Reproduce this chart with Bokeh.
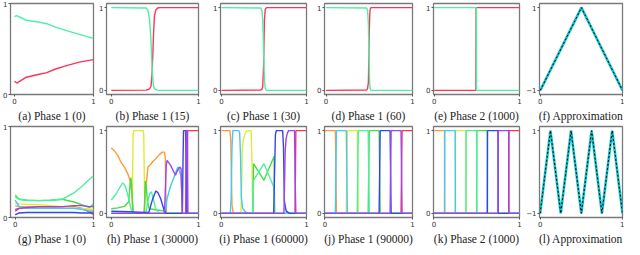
from bokeh.plotting import figure
from bokeh.layouts import gridplot
from bokeh.models import FixedTicker, Range1d, Title
from bokeh.embed import file_html
from bokeh.resources import INLINE

# ---------------- colours ----------------
TOP_GREEN = "#4cf0a2"
TOP_RED = "#ff3358"
CLS = {"red": "#ff3358", "orange": "#ff9a38", "yellow": "#dcec35", "green": "#45dc45",
       "spring": "#48f0a0", "cyan": "#45c8f5", "blue": "#3346ee", "purple": "#9b45ee"}
ORDER = ["red", "orange", "yellow", "green", "spring", "cyan", "blue", "purple"]
APPROX_C = "#14c4cc"

# ---------------- captions ----------------
captions_top = ["(a) Phase 1 (0)", "(b) Phase 1 (15)", "(c) Phase 1 (30)",
                "(d) Phase 1 (60)", "(e) Phase 2 (1000)", "(f) Approximation"]
captions_bottom = ["(g) Phase 1 (0)", "(h) Phase 1 (30000)", "(i) Phase 1 (60000)",
                   "(j) Phase 1 (90000)", "(k) Phase 2 (1000)", "(l) Approximation"]

# ---------------- top row data (2 classes) ----------------
xa = [0, 0.03, 0.15, 0.30, 0.41, 0.52, 0.67, 0.82, 1.0]
ga = [0.855, 0.866, 0.816, 0.797, 0.778, 0.74, 0.70, 0.66, 0.617]
ra = [0.146, 0.126, 0.19, 0.22, 0.24, 0.28, 0.32, 0.356, 0.383]

xb = [0, 0.40, 0.42, 0.44, 0.455, 0.465, 0.475, 0.485, 0.495, 0.51, 0.53, 0.56, 1]
gb = [1, 0.995, 0.97, 0.85, 0.6, 0.35, 0.15, 0.05, 0.02, 0.01, 0.003, 0, 0]
rb = [0, 0.003, 0.01, 0.02, 0.05, 0.15, 0.4, 0.7, 0.9, 0.97, 0.995, 1, 1]

xc = [0, 0.46, 0.475, 0.485, 0.495, 0.50, 0.505, 0.515, 0.53, 1]
gc = [1, 0.995, 0.97, 0.85, 0.5, 0.3, 0.12, 0.02, 0, 0]
rc = [0, 0.005, 0.01, 0.04, 0.3, 0.6, 0.85, 0.98, 1, 1]

xd = [0, 0.47, 0.48, 0.49, 0.495, 0.50, 0.505, 0.51, 0.52, 1]
gd = [1, 0.995, 0.97, 0.8, 0.5, 0.25, 0.08, 0.02, 0, 0]
rd = [0, 0.005, 0.02, 0.1, 0.4, 0.7, 0.9, 0.98, 1, 1]

xe = [0, 0.489, 0.491, 0.494, 0.496, 1]
ge = [1, 1, 1, 1, 0, 0]
re_ = [0, 0, 1, 1, 1, 1]

xf = [0, 0.5, 1]
yf = [-1, 1, -1]

xl = [0, 0.125, 0.25, 0.375, 0.5, 0.625, 0.75, 0.875, 1]
yl = [-1, 1, -1, 1, -1, 1, -1, 1, -1]

# ---------------- (g) Phase 1 (0), 8 classes ----------------
xg = [0, 0.05, 0.15, 0.30, 0.45, 0.60, 0.75, 0.85, 0.95, 1.0]
g_red = [0.07, 0.10, 0.11, 0.115, 0.115, 0.12, 0.12, 0.10, 0.06, 0.03]
g_orange = [0.13, 0.12, 0.12, 0.115, 0.11, 0.105, 0.10, 0.095, 0.085, 0.08]
g_yellow = [0.16, 0.15, 0.145, 0.14, 0.13, 0.12, 0.11, 0.10, 0.09, 0.09]
g_green = [0.23, 0.20, 0.19, 0.185, 0.19, 0.20, 0.17, 0.14, 0.11, 0.15]
g_spring = [0.25, 0.20, 0.19, 0.185, 0.19, 0.20, 0.27, 0.34, 0.42, 0.46]
g_cyan = [0.19, 0.12, 0.10, 0.10, 0.10, 0.10, 0.10, 0.09, 0.07, 0.06]
g_blue = [0.03, 0.05, 0.055, 0.055, 0.055, 0.055, 0.055, 0.05, 0.05, 0.05]
g_purple = [0.09, 0.10, 0.11, 0.12, 0.12, 0.12, 0.13, 0.13, 0.12, 0.12]

# ---------------- (h) Phase 1 (30000) ----------------
h_orange_x = [0, 0.04, 0.075, 0.11, 0.15, 0.17, 0.20, 0.22, 0.235, 0.25, 0.26, 0.377, 0.39,
              0.41, 0.42, 0.45, 0.48, 0.51, 0.55, 0.585, 0.61, 0.62, 0.625, 0.634, 1]
h_orange_y = [0.79, 0.75, 0.70, 0.62, 0.56, 0.52, 0.45, 0.37, 0.24, 0.03, 0, 0, 0.24,
              0.45, 0.56, 0.59, 0.63, 0.66, 0.71, 0.74, 0.74, 0.66, 0.24, 0, 0]
h_yellow_x = [0, 0.24, 0.245, 0.25, 0.258, 0.365, 0.372, 0.378, 0.385, 1]
h_yellow_y = [0, 0, 0.5, 0.95, 1, 1, 0.95, 0.5, 0, 0]
h_green_x = [0, 0.075, 0.15, 0.20, 0.22, 0.226, 0.238, 0.25, 0.377, 0.39, 0.40, 0.415,
             0.434, 0.53, 0.60, 0.61, 1]
h_green_y = [0.055, 0.067, 0.084, 0.14, 0.41, 0.43, 0.24, 0, 0, 0.39, 0.33, 0.14,
             0.055, 0.04, 0.03, 0, 0]
h_spring_x = [0, 0.057, 0.13, 0.16, 0.19, 0.22, 0.24, 0.396, 0.415, 0.44, 0.46, 0.48,
              0.51, 0.55, 1]
h_spring_y = [0.16, 0.24, 0.37, 0.33, 0.22, 0.08, 0, 0, 0.12, 0.24, 0.26, 0.18,
              0.055, 0, 0]
h_cyan_x = [0, 0.62, 0.64, 0.68, 0.717, 0.755, 0.766, 0.785, 0.80, 0.815, 1]
h_cyan_y = [0, 0, 0.18, 0.33, 0.43, 0.54, 0.56, 0.50, 0.45, 0, 0]
h_blue_x = [0, 0.20, 0.377, 0.43, 0.47, 0.51, 0.535, 0.566, 0.60, 0.626, 0.815, 0.822,
            0.828, 0.852, 0.858, 0.864, 1]
h_blue_y = [0.025, 0.02, 0.01, 0.01, 0.16, 0.27, 0.25, 0.18, 0.055, 0, 0, 0.6,
            1, 1, 0.6, 0, 0]
h_purple_x = [0, 0.61, 0.63, 0.64, 0.68, 0.717, 0.736, 0.76, 0.785, 0.80, 0.815, 0.853,
              0.858, 0.872, 0.879, 1]
h_purple_y = [0, 0, 0.58, 0.64, 0.58, 0.50, 0.46, 0.52, 0.56, 0.54, 0, 0,
              1, 1, 0, 0]
h_red_x = [0, 0.868, 0.875, 1]
h_red_y = [0, 0, 1, 1]

# ---------------- (i) Phase 1 (60000) ----------------
i_orange_x = [0, 0.10, 0.11, 0.125, 0.14, 1]
i_orange_y = [1, 1, 0.9, 0.1, 0, 0]
i_cyan_x = [0, 0.105, 0.115, 0.125, 0.135, 0.205, 0.215, 0.225, 0.235, 0.25, 0.28, 0.32, 1]
i_cyan_y = [0, 0, 0.2, 0.8, 1, 1, 0.97, 0.7, 0.2, 0.06, 0.02, 0, 0]
i_yellow_x = [0, 0.23, 0.24, 0.245, 0.26, 0.28, 0.30, 0.35, 0.36, 0.37, 1]
i_yellow_y = [0, 0, 0.4, 0.75, 0.9, 0.97, 1, 1, 0.6, 0, 0]
i_green_x = [0, 0.37, 0.378, 0.5, 0.62, 0.625, 1]
i_green_y = [0, 0, 0.6, 0.4, 0.69, 0, 0]
i_spring_x = [0, 0.37, 0.378, 0.5, 0.62, 0.625, 1]
i_spring_y = [0, 0, 0.4, 0.6, 0.31, 0, 0]
i_blue_x = [0, 0.615, 0.625, 0.635, 0.645, 0.72, 0.73, 0.74, 0.76, 0.80, 1]
i_blue_y = [0, 0, 0.5, 0.95, 1, 1, 0.8, 0.15, 0.03, 0, 0]
i_purple_x = [0, 0.735, 0.745, 0.75, 0.76, 0.775, 0.79, 0.86, 0.865, 0.875, 1]
i_purple_y = [0, 0, 0.5, 0.75, 0.9, 0.97, 1, 1, 0.5, 0, 0]
i_red_x = [0, 0.865, 0.875, 1]
i_red_y = [0, 0, 1, 1]

# ---------------- (j), (k): one class per interval ----------------
jk_edges = [0, 0.125, 0.25, 0.375, 0.5, 0.625, 0.75, 0.875, 1]
jk_owner = ["orange", "cyan", "yellow", "spring", "green", "blue", "purple", "red"]
j_soft = 0.006
k_soft = 0.0015

# ---------------- layout ----------------
FIG_H = 123
col_w = [96, 110, 104, 106, 107, 101]
col_l = [9, 10, 14, 14, 17, 16]
col_r = [3, 8, 4, 4, 4, 2]
xr_top = [(-0.05, 1), (-0.055, 1), (-0.012, 1), (-0.018, 1), (-0.008, 1), (-0.01, 1)]
xr_bot = [(-0.06, 1), (-0.055, 1), (-0.01, 1), (-0.005, 1), (-0.005, 1), (-0.008, 1)]
SOFT = (-0.05, 1.05)
yr_top = [(0, 1), SOFT, SOFT, SOFT, SOFT, (-1.1, 1.1)]
yr_bot = [(0, 1), SOFT, SOFT, SOFT, SOFT, (-1.1, 1.1)]


def make_fig(col, xr, yr, caption):
    p = figure(width=col_w[col], height=FIG_H, x_range=Range1d(*xr), y_range=Range1d(*yr),
               output_backend="svg", toolbar_location=None,
               min_border_left=col_l[col], min_border_right=col_r[col],
               min_border_top=3, min_border_bottom=0)
    p.grid.visible = False
    p.outline_line_color = "#7a7a7a"
    p.outline_line_width = 1.3
    p.background_fill_color = "white"
    p.border_fill_color = "white"
    p.xaxis.ticker = FixedTicker(ticks=[0, 1])
    if yr[0] < -0.5:
        p.yaxis.ticker = FixedTicker(ticks=[-1, 1])
        p.yaxis.major_label_overrides = {-1: "\u22121"}
    else:
        p.yaxis.ticker = FixedTicker(ticks=[0, 1])
    for ax in (p.xaxis[0], p.yaxis[0]):
        ax.axis_line_color = None
        ax.major_tick_line_color = "#555555"
        ax.major_tick_out = 2
        ax.major_tick_in = 0
        ax.minor_tick_line_color = None
        ax.major_label_text_font_size = "7px"
        ax.major_label_text_font = "DejaVu Sans"
        ax.major_label_text_color = "#333333"
        ax.major_label_standoff = 1
    t = Title(text=caption, align="center", text_font="Liberation Serif",
              text_font_size="11.5px", text_font_style="normal", text_color="#222222",
              standoff=3, offset=0, text_line_height=1.0)
    p.add_layout(t, "below")
    return p


def step_curve(lo, hi, w):
    xs, ys = [], []
    if lo > 0:
        xs += [0, lo - w]
        ys += [0, 0]
        xs += [lo + w]
        ys += [1]
    else:
        xs += [0]
        ys += [1]
    if hi < 1:
        xs += [hi - w, hi + w, 1]
        ys += [1, 0, 0]
    else:
        xs += [1]
        ys += [1]
    return xs, ys


LW = 1.4
top_figs = []
for c in range(6):
    top_figs.append(make_fig(c, xr_top[c], yr_top[c], captions_top[c]))

for p, x, g, r in zip(top_figs[:5], [xa, xb, xc, xd, xe], [ga, gb, gc, gd, ge], [ra, rb, rc, rd, re_]):
    p.line(x, r, line_color=TOP_RED, line_width=LW)
    p.line(x, g, line_color=TOP_GREEN, line_width=LW)

bot_figs = []
for c in range(6):
    bot_figs.append(make_fig(c, xr_bot[c], yr_bot[c], captions_bottom[c]))

# approximations
for p, x, y in [(top_figs[5], xf, yf), (bot_figs[5], xl, yl)]:
    p.line(x, y, line_color=APPROX_C, line_width=2.6)
    p.line(x, y, line_color="black", line_width=1.0, line_dash="2 2")

# (g)
g_data = {"red": g_red, "orange": g_orange, "yellow": g_yellow, "green": g_green,
          "spring": g_spring, "cyan": g_cyan, "blue": g_blue, "purple": g_purple}
for name in ORDER:
    bot_figs[0].line(xg, g_data[name], line_color=CLS[name], line_width=LW)

# (h)
h_data = {"red": (h_red_x, h_red_y), "orange": (h_orange_x, h_orange_y),
          "yellow": (h_yellow_x, h_yellow_y), "green": (h_green_x, h_green_y),
          "spring": (h_spring_x, h_spring_y), "cyan": (h_cyan_x, h_cyan_y),
          "blue": (h_blue_x, h_blue_y), "purple": (h_purple_x, h_purple_y)}
for name in ORDER:
    x, y = h_data[name]
    bot_figs[1].line(x, y, line_color=CLS[name], line_width=LW)

# (i)
i_data = {"red": (i_red_x, i_red_y), "orange": (i_orange_x, i_orange_y),
          "yellow": (i_yellow_x, i_yellow_y), "green": (i_green_x, i_green_y),
          "spring": (i_spring_x, i_spring_y), "cyan": (i_cyan_x, i_cyan_y),
          "blue": (i_blue_x, i_blue_y), "purple": (i_purple_x, i_purple_y)}
for name in ORDER:
    x, y = i_data[name]
    bot_figs[2].line(x, y, line_color=CLS[name], line_width=LW)

# (j), (k)
for p, w in [(bot_figs[3], j_soft), (bot_figs[4], k_soft)]:
    for name in ORDER:
        k = jk_owner.index(name)
        x, y = step_curve(jk_edges[k], jk_edges[k + 1], w)
        p.line(x, y, line_color=CLS[name], line_width=LW)

grid = gridplot([top_figs, bot_figs], toolbar_location=None)
open("out.html", "w").write(file_html(grid, INLINE))
